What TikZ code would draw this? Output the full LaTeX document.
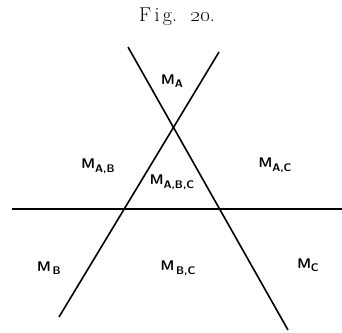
\documentclass[tikz,border=0pt]{standalone}
\newcommand{\msub}[1]{M\raisebox{-3.5pt}{\fontsize{11}{12}\selectfont #1}}
\begin{document}
\begin{tikzpicture}[x=1pt,y=-1pt,
  lab/.style={font=\sffamily\bfseries\fontsize{14}{16}\selectfont, inner sep=0pt},
  ln/.style={line width=1.6pt}]
\useasboundingbox (0,0) rectangle (342,332);
\node[font=\fontsize{20}{22}\selectfont, inner sep=0pt] (title) at (177,17) {F\,i\,g.\; \oldstylenums{20}.};
\coordinate (l1a) at (128,47);
\coordinate (l1b) at (288,330);
\coordinate (l2a) at (219,52);
\coordinate (l2b) at (59,317);
\coordinate (h1) at (12,209);
\coordinate (h2) at (342,209);
\draw[ln] (l1a) -- (l1b);
\draw[ln] (l2a) -- (l2b);
\draw[ln] (h1) -- (h2);
\node[lab] (ma) at (172,81) {\msub{A}};
\node[lab] (mab) at (98,166) {\msub{A,B}};
\node[lab] (mabc) at (172,182) {\msub{A,B,C}};
\node[lab] (mac) at (275,165) {\msub{A,C}};
\node[lab] (mb) at (49,268) {\msub{\,B}};
\node[lab] (mbc) at (178,268) {\msub{\,B,C}};
\node[lab] (mc) at (308,265) {\msub{C}};
\end{tikzpicture}
\end{document}
